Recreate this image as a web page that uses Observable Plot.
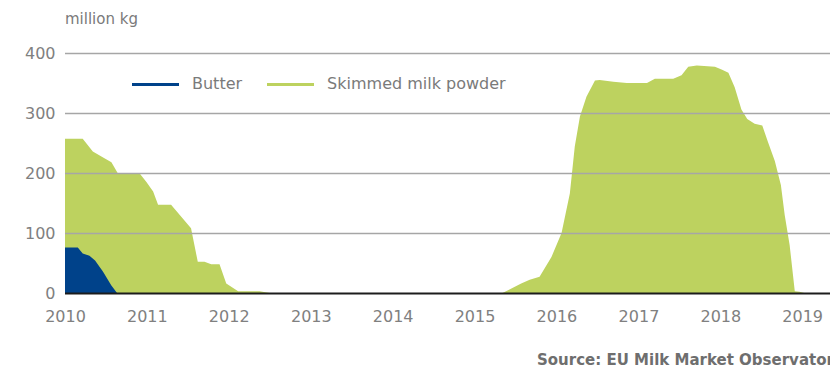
<!DOCTYPE html>
<html>
<head>
<meta charset="utf-8">
<script src="https://cdn.jsdelivr.net/npm/d3@7"></script>
<script src="https://cdn.jsdelivr.net/npm/@observablehq/plot@0.6"></script>
<style>
  html, body { margin: 0; padding: 0; background: #fff; }
  #wrap { position: relative; width: 830px; height: 371px; overflow: hidden; font-family: "DejaVu Sans", sans-serif; }
  #chart { position: absolute; left: 0; top: 0; }
  .unit { position: absolute; left: 65px; top: 12px; font-size: 15px; line-height: 15px; color: #7a7a7a; white-space: nowrap; }
  .legend { position: absolute; top: 76px; left: 132px; display: flex; align-items: center; font-size: 16px; line-height: 16px; color: #7a7a7a; white-space: nowrap; }
  .legend .swatch { display: inline-block; width: 47px; height: 3px; margin-right: 13px; }
  .legend .item { display: flex; align-items: center; margin-right: 25px; }
  .source { position: absolute; left: 537px; top: 353px; font-size: 15px; line-height: 15px; font-weight: bold; color: #6e6e6e; white-space: nowrap; }
</style>
</head>
<body>
<div id="wrap">
  <div id="chart"></div>
  <div class="unit">million kg</div>
  <div class="legend" id="legend"></div>
  <div class="source">Source: EU Milk Market Observatory</div>
</div>
<script>
// Public intervention stocks, million kg
const seriesNames = ["Butter", "Skimmed milk powder"];
const seriesColors = ["#00428a", "#bdd25f"];

const butterDates = ["2010-01-01", "2010-02-27", "2010-03-21", "2010-04-20", "2010-05-15", "2010-06-19", "2010-07-26", "2010-08-21", "2019-05-05"];
const butterValues = [76, 76, 66, 62, 54, 36, 13, 0, 0];

const smpDates = [
  "2010-01-01", "2010-03-21", "2010-05-05", "2010-06-20", "2010-07-27", "2010-08-25", "2010-11-30",
  "2010-12-30", "2011-01-29", "2011-02-20", "2011-04-19", "2011-07-17", "2011-08-16", "2011-09-15",
  "2011-10-15", "2011-11-21", "2011-12-21", "2012-02-12", "2012-05-18", "2012-07-01",
  "2015-05-06", "2015-07-28", "2015-09-04", "2015-10-18", "2015-12-10", "2016-01-24", "2016-03-01",
  "2016-03-23", "2016-04-15", "2016-05-14", "2016-06-21", "2016-07-12", "2016-09-11", "2016-11-10",
  "2017-02-08", "2017-03-15", "2017-06-05", "2017-07-12", "2017-08-11", "2017-09-18", "2017-12-08",
  "2018-01-09", "2018-02-06", "2018-03-06", "2018-04-05", "2018-05-01", "2018-06-03", "2018-07-07",
  "2018-08-01", "2018-09-01", "2018-09-28", "2018-10-15", "2018-11-06", "2018-11-29", "2018-12-20",
  "2019-01-10", "2019-05-05"
];
const smpValues = [
  257, 257, 236, 226, 218, 199, 199,
  185, 169, 147, 147, 108, 52, 52,
  48, 48, 16, 3, 3, 0,
  0, 16, 22, 27, 60, 100, 166,
  244, 294, 327, 354, 355, 352, 350,
  350, 357, 357, 363, 377, 379, 377,
  372, 367, 343, 306, 290, 282, 279,
  252, 220, 180, 130, 80, 3, 2,
  0, 0
];

const yearTicks = [2010, 2011, 2012, 2013, 2014, 2015, 2016, 2017, 2018, 2019];
const yTicks = [0, 100, 200, 300, 400];

const toRows = (dates, values) => dates.map((d, i) => ({date: new Date(d), value: values[i]}));
const butter = toRows(butterDates, butterValues);
const smp = toRows(smpDates, smpValues);
const yearDates = yearTicks.map(y => new Date(Date.UTC(y, 0, 1)));

const chart = Plot.plot({
  width: 830,
  height: 371,
  marginLeft: 65,
  marginRight: 0,
  marginTop: 53,
  marginBottom: 78,
  style: {fontFamily: "DejaVu Sans, sans-serif", fontSize: "16px", color: "#808080", background: "transparent"},
  x: {type: "utc", domain: [new Date("2010-01-01"), new Date("2019-05-05")]},
  y: {domain: [0, 400]},
  marks: [
    Plot.areaY(smp, {x: "date", y: "value", fill: seriesColors[1], curve: "linear"}),
    Plot.areaY(butter, {x: "date", y: "value", fill: seriesColors[0], curve: "linear"}),
    Plot.gridY(yTicks.filter(d => d > 0), {stroke: "#a6a6a6", strokeOpacity: 1, strokeWidth: 1.3}),
    Plot.ruleY([0], {stroke: "#1c1c1c", strokeWidth: 1.8}),
    Plot.axisY(yTicks, {tickSize: 0, tickPadding: 10, label: null, fill: "#808080", fontSize: 16}),
    Plot.axisX(yearDates, {tickSize: 0, tickPadding: 17, label: null, tickFormat: d3.utcFormat("%Y"), fill: "#808080", fontSize: 16})
  ]
});
document.getElementById("chart").appendChild(chart);

// legend
const legend = document.getElementById("legend");
seriesNames.forEach((name, i) => {
  const item = document.createElement("span");
  item.className = "item";
  const sw = document.createElement("span");
  sw.className = "swatch";
  sw.style.background = seriesColors[i];
  const label = document.createElement("span");
  label.textContent = name;
  item.appendChild(sw);
  item.appendChild(label);
  legend.appendChild(item);
});
</script>
</body>
</html>
